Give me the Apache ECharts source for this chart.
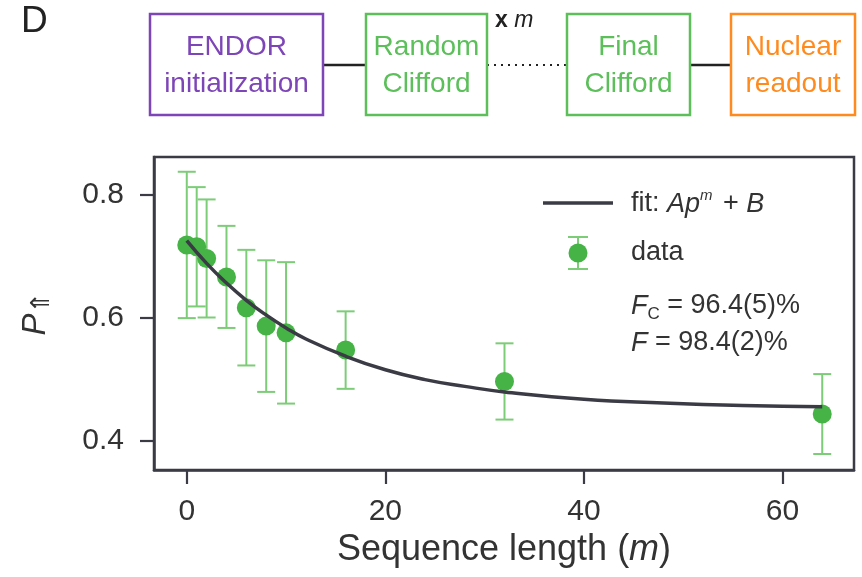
<!DOCTYPE html>
<html>
<head>
<meta charset="utf-8">
<script src="https://cdn.jsdelivr.net/npm/echarts@6/dist/echarts.min.js"></script>
<style>
  html, body { margin: 0; padding: 0; background: #fff; }
  #main { width: 862px; height: 577px; }
</style>
</head>
<body>
<div id="main"></div>
<script>
// data
const seqLen = [0, 1, 2, 4, 6, 8, 10, 16, 32, 64];
const pUp = [0.718, 0.715, 0.696, 0.666, 0.616, 0.586, 0.575, 0.547, 0.496, 0.443];
const pErr = [0.119, 0.097, 0.096, 0.083, 0.094, 0.107, 0.115, 0.063, 0.062, 0.065];

// fit curve, sampled from the drawn line
const fitM = [0, 2, 4, 6, 8, 10, 12, 16, 20, 24, 28, 32, 40, 48, 56, 64];
const fitP = [0.725, 0.688, 0.656, 0.628, 0.604, 0.583, 0.565, 0.537, 0.515, 0.499, 0.488, 0.479, 0.467, 0.461, 0.457, 0.455];

const xTicks = [0, 20, 40, 60];
const yTicks = [0.4, 0.6, 0.8];

const FONT = 'Liberation Sans, Arial, DejaVu Sans, sans-serif';
const INK = '#333333';
const LINE = '#3a3b45';
const GREEN = '#45b345';
const GREEN_LIGHT = '#7dcd78';
const PURPLE = '#7d45b7';
const ORANGE = '#ff8b1f';

const chart = echarts.init(document.getElementById('main'), null, { renderer: 'canvas' });

function errorBars(params, api) {
  const x = api.value(0);
  const y = api.value(1);
  const e = api.value(2);
  const top = api.coord([x, y + e]);
  const bot = api.coord([x, y - e]);
  const w = 9;
  const st = { stroke: GREEN_LIGHT, lineWidth: 2 };
  return {
    type: 'group',
    children: [
      { type: 'line', shape: { x1: top[0], y1: top[1], x2: bot[0], y2: bot[1] }, style: st },
      { type: 'line', shape: { x1: top[0] - w, y1: top[1], x2: top[0] + w, y2: top[1] }, style: st },
      { type: 'line', shape: { x1: bot[0] - w, y1: bot[1], x2: bot[0] + w, y2: bot[1] }, style: st }
    ]
  };
}

function box(x, w, color, label) {
  return [
    { type: 'rect', shape: { x: x, y: 14, width: w, height: 101 },
      style: { fill: '#fff', stroke: color, lineWidth: 2.5 } },
    { type: 'text', x: x + w / 2, y: 66,
      style: { text: label, fill: color, font: '28px ' + FONT, align: 'center',
               verticalAlign: 'middle', lineHeight: 37 } }
  ];
}

function hline(x1, x2, dash) {
  return { type: 'line', shape: { x1: x1, y1: 65, x2: x2, y2: 65 },
    style: { stroke: '#222', lineWidth: dash ? 1.8 : 2.5, lineDash: dash ? [2, 5] : null } };
}

const graphics = [
  { type: 'text', x: 21, y: 3, style: { text: 'D', fill: '#222', font: '37px ' + FONT } },
  hline(323, 366, false),
  hline(487, 567, true),
  hline(690, 731, false),
  ...box(150, 173, PURPLE, 'ENDOR\ninitialization'),
  ...box(366, 121, '#5cbf5a', 'Random\nClifford'),
  ...box(567, 123, '#5cbf5a', 'Final\nClifford'),
  ...box(731, 124, ORANGE, 'Nuclear\nreadout'),
  { type: 'text', x: 495, y: 21,
    style: { text: '{n|x }{i|m}', verticalAlign: 'middle',
      rich: { n: { font: 'bold 23px ' + FONT, fill: '#222' }, i: { font: 'italic 23px ' + FONT, fill: '#222' } } } },

  // legend
  { type: 'line', shape: { x1: 543, y1: 203, x2: 613, y2: 203 }, style: { stroke: LINE, lineWidth: 3.5 } },
  { type: 'text', x: 631, y: 204,
    style: { text: '{n|fit: }{i|Ap}{s|m}{n| + }{i|B}', verticalAlign: 'middle',
      rich: {
        n: { font: '27px ' + FONT, fill: INK, lineHeight: 32 },
        i: { font: 'italic 27px ' + FONT, fill: INK, lineHeight: 32 },
        s: { font: 'italic 15px ' + FONT, fill: INK, verticalAlign: 'top', lineHeight: 32, padding: [0, 3, 0, 0] }
      } } },
  { type: 'line', shape: { x1: 578, y1: 237, x2: 578, y2: 269 }, style: { stroke: GREEN_LIGHT, lineWidth: 2 } },
  { type: 'line', shape: { x1: 568, y1: 237, x2: 588, y2: 237 }, style: { stroke: GREEN_LIGHT, lineWidth: 2 } },
  { type: 'line', shape: { x1: 568, y1: 269, x2: 588, y2: 269 }, style: { stroke: GREEN_LIGHT, lineWidth: 2 } },
  { type: 'circle', shape: { cx: 578, cy: 253, r: 9.5 }, style: { fill: GREEN } },
  { type: 'text', x: 631, y: 253, style: { text: 'data', fill: INK, font: '27px ' + FONT, verticalAlign: 'middle' } },
  { type: 'text', x: 631, y: 306,
    style: { text: '{i|F}{s|C}{n| = 96.4(5)%}', verticalAlign: 'middle',
      rich: {
        n: { font: '27px ' + FONT, fill: INK, lineHeight: 34 },
        i: { font: 'italic 27px ' + FONT, fill: INK, lineHeight: 34 },
        s: { font: '17px ' + FONT, fill: INK, verticalAlign: 'bottom', lineHeight: 34 }
      } } },
  { type: 'text', x: 631, y: 343,
    style: { text: '{i|F}{n| = 98.4(2)%}', verticalAlign: 'middle',
      rich: {
        n: { font: '27px ' + FONT, fill: INK },
        i: { font: 'italic 27px ' + FONT, fill: INK }
      } } }
];

const errData = seqLen.map((m, i) => [m, pUp[i], pErr[i]]);
const ptData = seqLen.map((m, i) => [m, pUp[i]]);
const fitData = fitM.map((m, i) => [m, fitP[i]]);

const option = {
  animation: false,
  backgroundColor: '#fff',
  textStyle: { fontFamily: FONT },
  grid: {
    left: 154, right: 8, top: 157, bottom: 107,
    show: true, borderColor: LINE, borderWidth: 2.5, backgroundColor: 'transparent'
  },
  xAxis: {
    type: 'value', min: -3.3, max: 67.2,
    splitLine: { show: false },
    axisLine: { show: true, onZero: false, lineStyle: { color: LINE, width: 2.5 } },
    axisTick: { show: true, length: 14, customValues: xTicks, lineStyle: { color: LINE, width: 2.2 } },
    axisLabel: { customValues: xTicks, color: INK, fontSize: 30, margin: 27, fontFamily: FONT },
    name: '{n|Sequence length (}{i|m}{n|)}',
    nameLocation: 'middle', nameGap: 56,
    nameTextStyle: {
      rich: {
        n: { fontSize: 36, color: INK, fontFamily: FONT },
        i: { fontSize: 36, color: INK, fontFamily: FONT, fontStyle: 'italic' }
      }
    }
  },
  yAxis: {
    type: 'value', min: 0.352, max: 0.861,
    splitLine: { show: false },
    axisLine: { show: true, onZero: false, lineStyle: { color: LINE, width: 2.5 } },
    axisTick: { show: true, length: 14, customValues: yTicks, lineStyle: { color: LINE, width: 2.2 } },
    axisLabel: { customValues: yTicks, color: INK, fontSize: 30, margin: 30, fontFamily: FONT,
      formatter: v => v.toFixed(1) },
    name: '{i|P}{s|⇑}',
    nameLocation: 'middle', nameGap: 99, nameRotate: 90,
    nameTextStyle: {
      rich: {
        i: { fontSize: 33, color: INK, fontFamily: FONT, fontStyle: 'italic', lineHeight: 38 },
        s: { fontSize: 26, color: INK, fontFamily: 'DejaVu Sans, sans-serif', verticalAlign: 'bottom', lineHeight: 38 }
      }
    }
  },
  series: [
    {
      name: 'err', type: 'custom', renderItem: errorBars, data: errData, z: 2,
      encode: { x: 0, y: 1 }, silent: true
    },
    {
      name: 'data', type: 'scatter', data: ptData, symbolSize: 19, z: 3,
      itemStyle: { color: GREEN, opacity: 1 }
    },
    {
      name: 'fit', type: 'line', data: fitData, smooth: true, showSymbol: false, z: 4,
      lineStyle: { color: LINE, width: 3.5 }
    }
  ],
  graphic: graphics
};

chart.setOption(option);
</script>
</body>
</html>
